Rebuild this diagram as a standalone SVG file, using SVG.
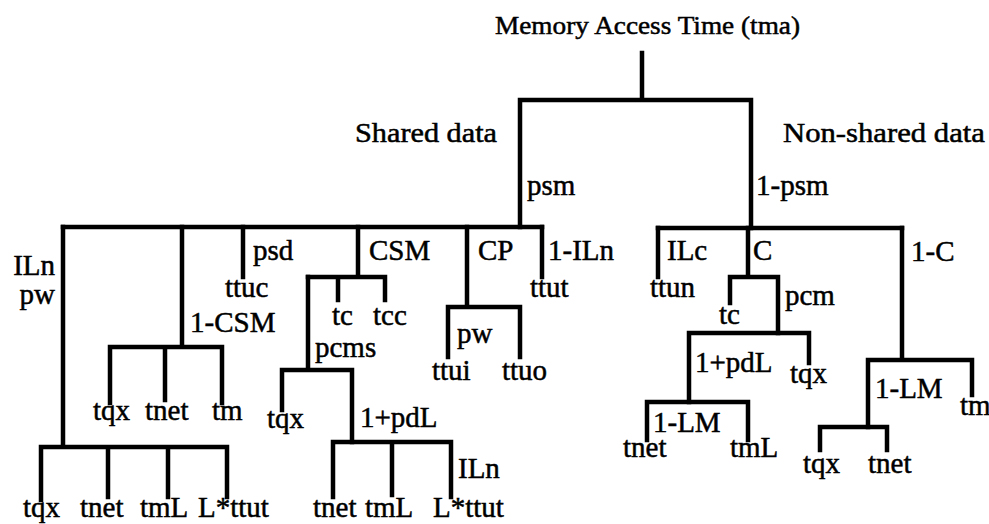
<svg xmlns="http://www.w3.org/2000/svg" width="989" height="524" viewBox="0 0 989 524">
  <style>
    .edge { fill: none; stroke: #000; stroke-width: 4.5; stroke-linecap: square; stroke-linejoin: miter; }
    text { font-family: "Liberation Serif", "Times New Roman", serif; fill: #000; stroke: #000; stroke-width: 0.5; }
    .lbl { font-size: 29px; }
    .head { font-size: 27px; }
    .title { font-size: 26px; }
  </style>
  <rect width="989" height="524" fill="#fff"/>

  <!-- tree connectors -->
  <g id="connectors" class="edge">
    <!-- root split -->
    <path d="M642,53 V100 M520,100 H751 M520,100 V227 M751,100 V228"/>
    <!-- shared-data branch -->
    <path d="M63,227 H542"/>
    <path d="M63,227 V447 M41,447 H227 M41,447 V500 M108,447 V497 M168,447 V497 M227,447 V497"/>
    <path d="M182,227 V347 M110,347 H222 M110,347 V403 M165,347 V400 M222,347 V403"/>
    <path d="M243,227 V277"/>
    <path d="M358,227 V277 M308,277 H385 M338,277 V300 M385,277 V300"/>
    <path d="M308,277 V370 M282,370 H352 M282,370 V410 M352,370 V442"/>
    <path d="M333,442 H451 M333,442 V497 M392,442 V495 M451,442 V497"/>
    <path d="M467,227 V307 M448,307 H520 M448,307 V357 M520,307 V357"/>
    <path d="M542,227 V277"/>
    <!-- non-shared-data branch -->
    <path d="M658,228 H902"/>
    <path d="M658,228 V277"/>
    <path d="M748,228 V277 M730,277 H778 M730,277 V303 M778,277 V333"/>
    <path d="M689,333 H809 M809,333 V363 M689,333 V402"/>
    <path d="M647,402 H748 M647,402 V440 M748,402 V440"/>
    <path d="M902,228 V360 M868,360 H972 M972,360 V395 M868,360 V427"/>
    <path d="M820,427 H887 M820,427 V450 M887,427 V450"/>
  </g>

  <g id="root">
    <text class="title" x="495" y="34" textLength="305" lengthAdjust="spacingAndGlyphs">Memory Access Time (tma)</text>
  </g>

  <g id="shared">
    <text class="head" x="355" y="142" textLength="142" lengthAdjust="spacingAndGlyphs">Shared data</text>
    <text class="lbl" x="527" y="195">psm</text>
  </g>

  <g id="nonshared">
    <text class="head" x="783" y="142" textLength="202" lengthAdjust="spacingAndGlyphs">Non-shared data</text>
    <text class="lbl" x="756" y="195">1-psm</text>
  </g>

  <g id="remote-lines">
    <text class="lbl" x="55" y="275" text-anchor="end">ILn</text>
    <text class="lbl" x="55" y="304" text-anchor="end">pw</text>
    <text class="lbl" x="23" y="517">tqx</text>
    <text class="lbl" x="80" y="517">tnet</text>
    <text class="lbl" x="140" y="517">tmL</text>
    <text class="lbl" x="198" y="517">L*ttut</text>
  </g>

  <g id="csm-miss">
    <text class="lbl" x="190" y="332">1-CSM</text>
    <text class="lbl" x="93" y="420">tqx</text>
    <text class="lbl" x="145" y="420">tnet</text>
    <text class="lbl" x="212" y="420">tm</text>
  </g>

  <g id="psd">
    <text class="lbl" x="253" y="260">psd</text>
    <text class="lbl" x="225" y="297">ttuc</text>
  </g>

  <g id="csm-hit">
    <text class="lbl" x="369" y="260">CSM</text>
    <text class="lbl" x="332" y="325">tc</text>
    <text class="lbl" x="373" y="325">tcc</text>
  </g>

  <g id="pcms">
    <text class="lbl" x="315" y="357">pcms</text>
    <text class="lbl" x="267" y="428">tqx</text>
    <text class="lbl" x="360" y="427">1+pdL</text>
    <text class="lbl" x="458" y="478">ILn</text>
    <text class="lbl" x="313" y="517">tnet</text>
    <text class="lbl" x="365" y="517">tmL</text>
    <text class="lbl" x="433" y="517">L*ttut</text>
  </g>

  <g id="cp">
    <text class="lbl" x="478" y="260">CP</text>
    <text class="lbl" x="457" y="343">pw</text>
    <text class="lbl" x="432" y="380">ttui</text>
    <text class="lbl" x="502" y="380">ttuo</text>
  </g>

  <g id="local-line">
    <text class="lbl" x="548" y="260">1-ILn</text>
    <text class="lbl" x="530" y="297">ttut</text>
  </g>

  <g id="ilc">
    <text class="lbl" x="667" y="260">ILc</text>
    <text class="lbl" x="650" y="297">ttun</text>
  </g>

  <g id="cache-hit">
    <text class="lbl" x="753" y="260">C</text>
    <text class="lbl" x="719" y="324">tc</text>
    <text class="lbl" x="785" y="305">pcm</text>
  </g>

  <g id="pcm">
    <text class="lbl" x="695" y="372">1+pdL</text>
    <text class="lbl" x="790" y="383">tqx</text>
    <text class="lbl" x="653" y="432">1-LM</text>
    <text class="lbl" x="623" y="457">tnet</text>
    <text class="lbl" x="730" y="457">tmL</text>
  </g>

  <g id="cache-miss">
    <text class="lbl" x="911" y="261">1-C</text>
    <text class="lbl" x="875" y="398">1-LM</text>
    <text class="lbl" x="960" y="415">tm</text>
    <text class="lbl" x="803" y="473">tqx</text>
    <text class="lbl" x="868" y="473">tnet</text>
  </g>
</svg>
